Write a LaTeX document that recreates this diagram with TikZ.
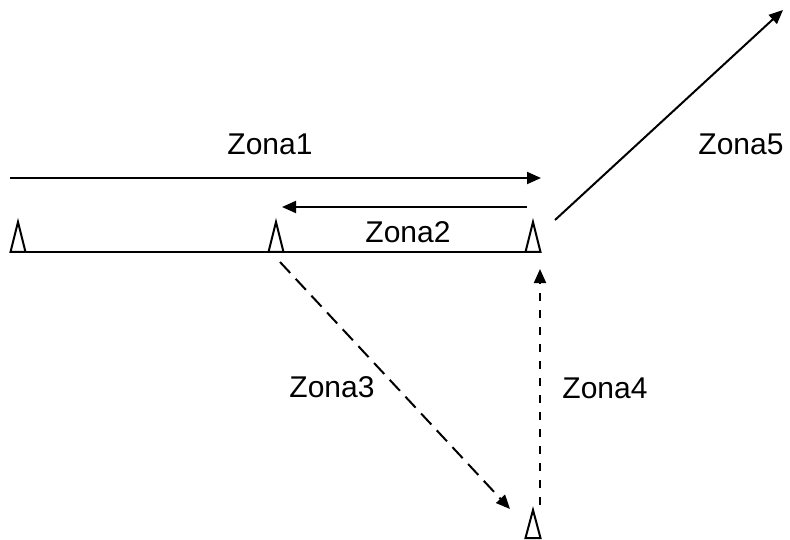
\documentclass[tikz,border=0pt]{standalone}
\usepackage{fontspec}
\setmainfont{Liberation Sans}
\usetikzlibrary{arrows.meta,calc}
\begin{document}
\begin{tikzpicture}[x=1pt,y=-1pt,
  ln/.style={line width=2pt},
  arr/.style={ln,-{Triangle[length=14pt,width=12pt]}},
  dashA/.style={dash pattern=on 15pt off 8pt},
  dashB/.style={dash pattern=on 8pt off 9pt},
  tri/.style={line width=2pt,line join=miter},
  lbl/.style={anchor=base,inner sep=0pt,font=\fontsize{30}{36}\selectfont}]
\useasboundingbox (0,0) rectangle (790,540);
% triangles (stations)
\coordinate (t1) at (18,222);
\coordinate (t2) at (276,222);
\coordinate (t3) at (533,222);
\coordinate (t4) at (533,510);
\foreach \t in {t1,t2,t3} {
  \draw[tri] ($(\t)+(-7.5,30)$) -- (\t) -- ($(\t)+(7.5,30)$) -- cycle;
}
\draw[tri] ($(t4)+(-7.5,28)$) -- (t4) -- ($(t4)+(7.5,28)$) -- cycle;
% baseline
\coordinate (bl) at (11,252);
\coordinate (br) at (541,252);
\draw[ln] (bl) -- (br);
% Zona1
\coordinate (z1s) at (10,178);
\coordinate (z1e) at (541,178);
\draw[arr] (z1s) -- (z1e);
\node[lbl] (l1) at (270,155) {Zona1};
% Zona2
\coordinate (z2s) at (527,207);
\coordinate (z2e) at (282,207);
\draw[arr] (z2s) -- (z2e);
\node[lbl] (l2) at (408,243) {Zona2};
% Zona3
\coordinate (z3s) at (280,262);
\coordinate (z3e) at (510,509);
\draw[arr,dashA] (z3s) -- (z3e);
\node[lbl] (l3) at (332,397) {Zona3};
% Zona4
\coordinate (z4s) at (540,505);
\coordinate (z4e) at (540,269);
\draw[arr,dashB] (z4s) -- (z4e);
\node[lbl] (l4) at (605,398) {Zona4};
% Zona5
\coordinate (z5s) at (555,220);
\coordinate (z5e) at (783,10);
\draw[arr] (z5s) -- (z5e);
\node[lbl] (l5) at (741,155) {Zona5};
\end{tikzpicture}
\end{document}
